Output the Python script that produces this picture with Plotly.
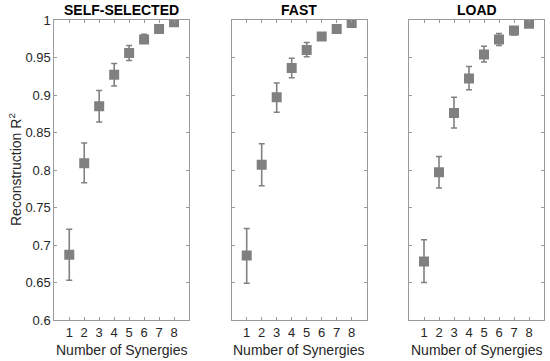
import plotly.graph_objects as go
from plotly.subplots import make_subplots

synergies = [1, 2, 3, 4, 5, 6, 7, 8]
panel_titles = ["SELF-SELECTED", "FAST", "LOAD"]

self_mean = [0.687, 0.809, 0.885, 0.927, 0.956, 0.974, 0.988, 0.997]
self_upper = [0.721, 0.836, 0.906, 0.942, 0.966, 0.981, 0.991, 0.999]
self_lower = [0.653, 0.783, 0.864, 0.912, 0.946, 0.969, 0.985, 0.995]

fast_mean = [0.686, 0.807, 0.897, 0.936, 0.960, 0.978, 0.988, 0.996]
fast_upper = [0.722, 0.835, 0.916, 0.949, 0.970, 0.982, 0.991, 0.998]
fast_lower = [0.649, 0.779, 0.877, 0.923, 0.951, 0.974, 0.985, 0.994]

load_mean = [0.678, 0.797, 0.876, 0.922, 0.954, 0.974, 0.986, 0.995]
load_upper = [0.707, 0.818, 0.897, 0.938, 0.965, 0.982, 0.991, 0.997]
load_lower = [0.650, 0.776, 0.856, 0.907, 0.944, 0.966, 0.980, 0.993]

y_ticks = [0.6, 0.65, 0.7, 0.75, 0.8, 0.85, 0.9, 0.95, 1]
y_ticktext = ["0.6", "0.65", "0.7", "0.75", "0.8", "0.85", "0.9", "0.95", "1"]

series = [
    (self_mean, self_upper, self_lower),
    (fast_mean, fast_upper, fast_lower),
    (load_mean, load_upper, load_lower),
]

W, H = 550, 361
x_px = [(54.3, 189.0), (231.7, 366.7), (409.0, 544.0)]
y_px = (20.0, 320.0)

fig = make_subplots(rows=1, cols=3)

marker_color = "#808080"
axis_color = "#9a9a9a"
text_color = "#262626"
font_family = "Liberation Sans, Arial, sans-serif"

for i, (m, up, lo) in enumerate(series):
    plus = [u - v for u, v in zip(up, m)]
    minus = [v - l for v, l in zip(m, lo)]
    fig.add_trace(
        go.Scatter(
            x=synergies, y=m, mode="markers",
            marker=dict(symbol="square", size=10, color=marker_color),
            error_y=dict(type="data", symmetric=False, array=plus, arrayminus=minus,
                         color=marker_color, thickness=1.6, width=3),
            showlegend=False, hoverinfo="skip",
        ),
        row=1, col=i + 1,
    )
    xa = "xaxis" if i == 0 else f"xaxis{i+1}"
    ya = "yaxis" if i == 0 else f"yaxis{i+1}"
    x0, x1 = x_px[i]
    fig.layout[xa].update(
        domain=[x0 / W, x1 / W], range=[0, 9], automargin=False,
        tickvals=synergies, ticktext=[str(s) for s in synergies],
        ticks="inside", ticklen=3, tickcolor=axis_color,
        showline=True, linecolor=axis_color, linewidth=1, mirror="ticks",
        showgrid=False, zeroline=False,
        tickfont=dict(size=13, color=text_color, family=font_family),
    )
    fig.layout[ya].update(
        domain=[1 - y_px[1] / H, 1 - y_px[0] / H], range=[0.6, 1], automargin=False,
        tickvals=y_ticks, ticktext=y_ticktext, showticklabels=(i == 0),
        ticks="inside", ticklen=3, tickcolor=axis_color,
        showline=True, linecolor=axis_color, linewidth=1, mirror="ticks",
        showgrid=False, zeroline=False,
        tickfont=dict(size=13, color=text_color, family=font_family),
    )
    xc = (x0 + x1) / 2 / W
    fig.add_annotation(x=xc, y=1 - 10 / H, xref="paper", yref="paper",
                       text=f"<b>{panel_titles[i]}</b>", showarrow=False,
                       font=dict(size=14, color="#000000", family=font_family),
                       xanchor="center", yanchor="middle")
    fig.add_annotation(x=xc, y=1 - 350 / H, xref="paper", yref="paper",
                       text="Number of Synergies", showarrow=False,
                       font=dict(size=14, color=text_color, family=font_family),
                       xanchor="center", yanchor="middle")

fig.add_annotation(x=15 / W, y=1 - 170 / H, xref="paper", yref="paper",
                   text="Reconstruction R<sup>2</sup>", showarrow=False, textangle=-90,
                   font=dict(size=14, color=text_color, family=font_family),
                   xanchor="center", yanchor="middle")

fig.update_layout(
    width=W, height=H, margin=dict(l=0, r=0, t=0, b=0, autoexpand=False),
    paper_bgcolor="white", plot_bgcolor="white",
    font=dict(family=font_family, color=text_color),
)

fig.write_html("out.html", config={"displayModeBar": False},
               post_script="document.body.style.margin='0';document.body.style.overflow='hidden';")
